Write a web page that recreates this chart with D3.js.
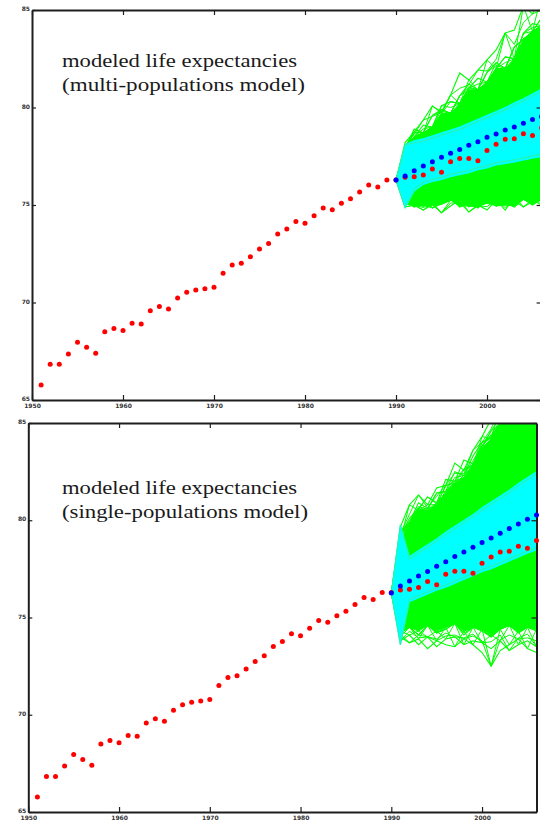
<!DOCTYPE html>
<html>
<head>
<meta charset="utf-8">
<script src="https://cdn.jsdelivr.net/npm/d3@7"></script>
<style>
  html, body { margin: 0; padding: 0; background: #fff; }
  svg { display: block; }
</style>
</head>
<body>
<svg id="chart" width="540" height="821"></svg>
<script>
// ---------- DATA ----------
const xTicks = [1950, 1960, 1970, 1980, 1990, 2000];
const yTicks = [65, 70, 75, 80, 85];

// observed life expectancy (red dots)
const obsYears = [1951,1952,1953,1954,1955,1956,1957,1958,1959,1960,1961,1962,1963,1964,1965,1966,1967,1968,1969,1970,
                  1971,1972,1973,1974,1975,1976,1977,1978,1979,1980,1981,1982,1983,1984,1985,1986,1987,1988,1989,1990,
                  1991,1992,1993,1994,1995,1996,1997,1998,1999,2000,2001,2002,2003,2004,2005,2006];
const obsLE = [65.77,66.83,66.83,67.36,67.96,67.70,67.40,68.50,68.67,68.56,68.93,68.90,69.58,69.80,69.67,70.23,70.52,70.64,70.71,70.78,
               71.50,71.92,72.01,72.35,72.74,73.03,73.51,73.77,74.16,74.06,74.45,74.85,74.76,75.09,75.32,75.67,76.03,75.92,76.28,76.28,
               76.42,76.45,76.54,76.85,76.68,77.22,77.38,77.38,77.27,77.79,78.11,78.37,78.40,78.66,78.56,78.96];

// forecast horizon
const fcYears = [1990,1991,1992,1993,1994,1995,1996,1997,1998,1999,2000,2001,2002,2003,2004,2005,2006];

// ---- multi-populations model (top panel) ----
const multiMedian = [76.28,76.49,76.76,77.00,77.22,77.45,77.65,77.84,78.06,78.25,78.47,78.64,78.85,79.00,79.19,79.38,79.53];
const multiBandHi = [76.28,78.10,78.30,78.40,78.55,78.70,78.85,79.00,79.20,79.40,79.60,79.80,80.00,80.25,80.45,80.70,80.95];
const multiBandLo = [76.28,74.85,75.70,76.05,76.20,76.30,76.45,76.55,76.65,76.80,76.90,77.05,77.12,77.20,77.30,77.40,77.48];
const multiSimOuterHi = [76.28,78.20,78.75,79.36,80.08,79.77,80.64,81.77,81.41,81.92,82.44,82.95,83.82,83.97,85.20,84.80,85.80];
const multiSimMidHi   = [76.28,77.90,78.90,78.70,79.60,79.90,79.70,80.60,81.20,80.90,81.80,82.30,82.00,83.10,83.50,83.90,84.60];
const multiSimMid2Hi  = [76.28,78.00,78.50,79.10,79.00,80.10,80.30,80.20,81.00,81.50,81.30,82.00,82.60,82.50,83.80,84.30,84.20];
const multiSimInnerHi = [76.28,77.90,78.50,78.70,79.00,79.70,79.70,80.20,80.90,80.90,81.30,82.00,82.00,82.50,83.50,83.90,84.20];
const multiSimInnerLo = [76.28,75.20,75.00,75.00,75.00,75.05,75.25,74.95,74.95,74.90,75.10,74.95,75.00,74.95,75.30,75.05,75.30];
const multiSimMid2Lo  = [76.28,75.10,75.20,74.95,75.30,75.05,75.25,75.40,74.90,75.35,75.10,75.45,75.00,75.30,75.50,75.10,75.40];
const multiSimMidLo   = [76.28,75.20,74.90,75.30,74.85,75.20,75.40,74.90,75.20,74.85,75.30,74.95,75.20,74.90,75.30,75.00,75.30];
const multiSimOuterLo = [76.28,74.90,75.00,74.74,75.10,74.60,74.95,75.26,74.64,75.00,74.74,75.26,74.74,75.40,74.90,75.26,75.00];

// ---- single-populations model (bottom panel) ----
const singleMedian = [76.26,76.62,76.88,77.13,77.37,77.63,77.87,78.13,78.37,78.61,78.85,79.09,79.33,79.57,79.81,80.05,80.27];
const singleBandHi = [76.26,79.76,78.13,78.45,78.75,79.05,79.40,79.70,80.00,80.30,80.65,80.95,81.25,81.55,81.90,82.20,82.50];
const singleBandLo = [76.26,73.59,75.81,76.00,76.20,76.40,76.55,76.75,76.95,77.15,77.35,77.50,77.70,77.90,78.10,78.30,78.47];
const singleSimOuterHi = [76.26,79.65,80.80,81.30,80.80,81.66,81.80,82.94,82.58,83.60,84.30,85.20,85.80,86.00,86.00,86.00,86.00];
const singleSimMidHi   = [76.26,79.20,80.10,80.60,81.20,80.90,82.10,82.00,83.10,82.90,83.80,84.60,85.30,85.80,86.00,86.00,86.00];
const singleSimMid2Hi  = [76.26,79.40,79.90,80.90,80.60,81.40,81.50,82.50,82.30,83.30,84.00,84.30,85.00,86.00,86.00,86.00,86.00];
const singleSimInnerHi = [76.26,79.00,79.80,80.50,80.50,80.80,81.40,81.90,82.20,82.80,83.70,84.20,84.90,85.70,86.00,86.00,86.00];
const singleSimInnerLo = [76.26,74.30,74.50,74.30,74.60,74.30,74.50,74.70,74.30,74.50,74.40,74.10,74.40,74.60,74.30,74.50,74.40];
const singleSimMid2Lo  = [76.26,74.20,74.50,74.10,74.60,74.20,74.40,74.70,74.10,74.50,74.30,74.00,74.40,74.60,74.20,74.50,74.30];
const singleSimMidLo   = [76.26,73.80,74.10,73.60,74.00,73.50,73.90,74.00,73.60,73.80,73.70,73.40,73.80,73.30,73.60,73.80,73.50];
const singleSimOuterLo = [76.26,74.00,73.70,73.90,73.40,73.80,73.60,73.50,73.90,73.60,73.20,72.50,73.30,73.60,73.90,73.40,73.20];

const panels = [
  { id: "multi", title: ["modeled life expectancies", "(multi-populations model)"], widths: [235, 243],
    textX: 62, textY: [67, 91],
    xRange: [32, 541.6], yRange: [400, 10],
    median: multiMedian, bandHi: multiBandHi, bandLo: multiBandLo,
    innerHi: multiSimInnerHi, innerLo: multiSimInnerLo,
    strokes: [multiSimOuterHi, multiSimMidHi, multiSimMid2Hi, multiSimMid2Lo, multiSimMidLo, multiSimOuterLo] },
  { id: "single", title: ["modeled life expectancies", "(single-populations model)"], widths: [235, 246],
    textX: 62, textY: [494, 518],
    xRange: [28.3, 536.5], yRange: [812, 423],
    median: singleMedian, bandHi: singleBandHi, bandLo: singleBandLo,
    innerHi: singleSimInnerHi, innerLo: singleSimInnerLo,
    strokes: [singleSimOuterHi, singleSimMidHi, singleSimMid2Hi, singleSimMid2Lo, singleSimMidLo, singleSimOuterLo] }
];

// ---------- DRAW ----------
const svg = d3.select("#chart");
const GREEN = "#00ff00", CYAN = "#00ffff", AXIS = "#1e1e1e";

panels.forEach((p) => {
  const x = d3.scaleLinear().domain([1950, 2006]).range(p.xRange);
  const y = d3.scaleLinear().domain([65, 85]).range(p.yRange);
  const g = svg.append("g");

  const clipId = "clip-" + p.id;
  g.append("clipPath").attr("id", clipId).append("rect")
    .attr("x", p.xRange[0]).attr("y", p.yRange[1])
    .attr("width", p.xRange[1] - p.xRange[0]).attr("height", p.yRange[0] - p.yRange[1]);

  const plot = g.append("g").attr("clip-path", `url(#${clipId})`);

  // simulated paths: dense core + outline paths
  const area = d3.area().x((d, i) => x(fcYears[i])).y0(d => y(d[1])).y1(d => y(d[0]));
  plot.append("path")
    .datum(p.innerHi.map((v, i) => [v, p.innerLo[i]]))
    .attr("d", area).attr("fill", GREEN).attr("stroke", GREEN).attr("stroke-width", 1);
  const line = d3.line().x((d, i) => x(fcYears[i])).y(d => y(d));
  p.strokes.forEach(s => {
    plot.append("path").datum(s).attr("d", line)
      .attr("fill", "none").attr("stroke", GREEN).attr("stroke-width", 1.1);
  });
  // paths that cross between the outline paths and the dense core
  p.strokes.forEach((s, k) => {
    const core = k < 3 ? p.innerHi : p.innerLo;
    plot.append("path").datum(s.map((v, i) => i % 2 === k % 2 ? v : core[i])).attr("d", line)
      .attr("fill", "none").attr("stroke", GREEN).attr("stroke-width", 1);
    plot.append("path").datum(s.map((v, i) => i % 3 === k % 3 ? v : (v + core[i]) / 2)).attr("d", line)
      .attr("fill", "none").attr("stroke", GREEN).attr("stroke-width", 1);
  });

  // prediction band (cyan)
  plot.append("path")
    .datum(p.bandHi.map((v, i) => [v, p.bandLo[i]]))
    .attr("d", area).attr("fill", CYAN).attr("stroke", CYAN).attr("stroke-width", 1);
  // light green edges of the band
  [p.bandHi, p.bandLo].forEach((b, k) => {
    const shifted = b.map((v, i) => i < 2 ? v : v + (k === 0 ? -0.12 : 0.12));
    plot.append("path").datum(shifted).attr("d", line)
      .attr("fill", "none").attr("stroke", "#30f0a0").attr("stroke-width", 1.2).attr("opacity", 0.8);
  });

  // axes
  const fontSize = 6;
  const styleAxis = (sel, labels) => {
    sel.select(".domain").attr("stroke", AXIS).attr("stroke-width", 2);
    sel.selectAll(".tick line").attr("stroke", AXIS).attr("stroke-width", 1.2);
    sel.selectAll(".tick text").attr("fill", "#333").attr("font-size", fontSize)
      .attr("font-family", "DejaVu Sans").attr("font-weight", "bold");
    if (!labels) sel.selectAll(".tick text").remove();
  };
  g.append("g").attr("transform", `translate(0,${p.yRange[0]})`)
    .call(d3.axisBottom(x).tickValues(xTicks).tickFormat(d3.format("d")).tickSize(-5).tickSizeOuter(0).tickPadding(4))
    .call(s => styleAxis(s, true));
  g.append("g").attr("transform", `translate(0,${p.yRange[1]})`)
    .call(d3.axisTop(x).tickValues(xTicks).tickSize(-5).tickSizeOuter(0))
    .call(s => styleAxis(s, false));
  g.append("g").attr("transform", `translate(${p.xRange[0]},0)`)
    .call(d3.axisLeft(y).tickValues(yTicks).tickSize(-4).tickSizeOuter(0).tickPadding(2))
    .call(s => { styleAxis(s, true); s.selectAll(".tick text").attr("dy", "0.1em"); });
  g.append("g").attr("transform", `translate(${p.xRange[1]},0)`)
    .call(d3.axisRight(y).tickValues(yTicks).tickSize(-5).tickSizeOuter(0))
    .call(s => styleAxis(s, false));

  // observed (red) and median forecast (blue) dots
  g.append("g").selectAll("circle").data(obsYears).join("circle")
    .attr("cx", d => x(d)).attr("cy", (d, i) => y(obsLE[i])).attr("r", 2.5).attr("fill", "#ff0000");
  g.append("g").selectAll("circle").data(fcYears).join("circle")
    .attr("cx", d => x(d)).attr("cy", (d, i) => y(p.median[i])).attr("r", 2.5).attr("fill", "#0000ff");

  // caption
  p.title.forEach((t, k) => {
    g.append("text").attr("x", p.textX).attr("y", p.textY[k])
      .attr("font-family", "Liberation Serif, DejaVu Serif, serif").attr("font-size", 19)
      .attr("fill", "#1a1a1a")
      .attr("textLength", p.widths[k]).attr("lengthAdjust", "spacingAndGlyphs")
      .text(t);
  });
});
</script>
</body>
</html>
